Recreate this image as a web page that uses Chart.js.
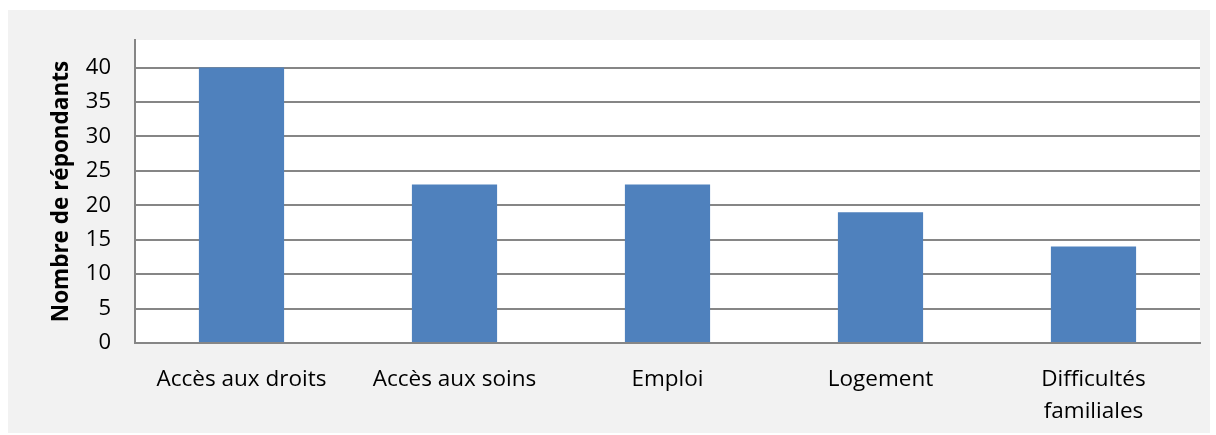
<!DOCTYPE html>
<html>
<head>
<meta charset="utf-8">
<script src="https://cdn.jsdelivr.net/npm/chart.js@4/dist/chart.umd.min.js"></script>
<style>
html,body{margin:0;padding:0;background:#ffffff;}
#wrap{position:relative;width:1216px;height:435px;}
</style>
</head>
<body>
<div id="wrap"><canvas id="c" width="1216" height="435"></canvas></div>
<script>
const categories = ["Accès aux droits", "Accès aux soins", "Emploi", "Logement", ["Difficultés", "familiales"]];
const values = [40, 23, 23, 19, 14];
const yTitle = "Nombre de répondants";

const bgPlugin = {
  id: 'bg',
  beforeDraw(chart) {
    const ctx = chart.ctx;
    ctx.save();
    ctx.fillStyle = '#f2f2f2';
    ctx.fillRect(8, 10, 1202, 423);
    const a = chart.chartArea;
    ctx.fillStyle = '#ffffff';
    ctx.fillRect(a.left, a.top, a.right - a.left, a.bottom - a.top);
    ctx.restore();
  }
};

const FONT = "'Open Sans', Lato, 'Noto Sans', sans-serif";

new Chart(document.getElementById('c'), {
  type: 'bar',
  data: {
    labels: categories,
    datasets: [{
      data: values,
      backgroundColor: '#4f81bd',
      borderWidth: 0,
      barPercentage: 0.4,
      categoryPercentage: 1.0
    }]
  },
  options: {
    responsive: false,
    animation: false,
    devicePixelRatio: 1,
    layout: { padding: { left: 0, top: 40, right: 16, bottom: 0 } },
    plugins: { legend: { display: false }, tooltip: { enabled: false } },
    scales: {
      x: {
        grid: { display: false, drawTicks: false },
        border: { display: true, color: '#868686', width: 2 },
        ticks: { color: '#000000', font: { family: FONT, size: 22.5, lineHeight: '32px' }, padding: 21, maxRotation: 0, autoSkip: false },
        afterFit(s) { s.height = 92; }
      },
      y: {
        min: 0,
        max: 44,
        afterBuildTicks(s) { s.ticks = s.ticks.filter(t => t.value % 5 === 0); },
        ticks: { stepSize: 5, color: '#000000', font: { family: FONT, size: 22 }, padding: 24 },
        grid: { color: '#868686', lineWidth: 2, drawTicks: false },
        border: { display: true, color: '#868686', width: 2 },
        title: { display: true, text: yTitle, color: '#000000', font: { family: FONT, size: 22.5, weight: 'bold' }, padding: { top: 48, bottom: 0 } },
        afterFit(s) { s.width = 135; }
      }
    }
  },
  plugins: [bgPlugin]
});
</script>
</body>
</html>
